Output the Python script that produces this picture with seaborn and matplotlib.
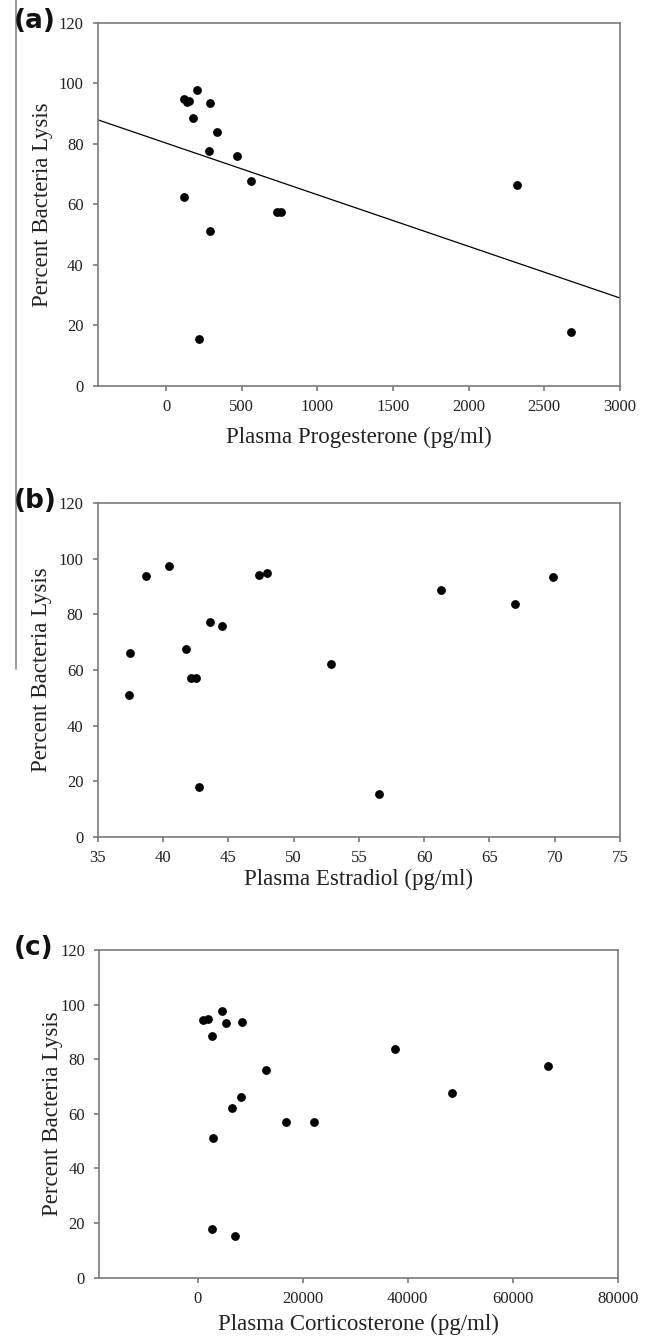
import matplotlib
matplotlib.use("Agg")
import matplotlib.pyplot as plt
import seaborn as sns
import pandas as pd
from matplotlib.lines import Line2D

# panel (a) progesterone
progesterone = [120, 150, 140, 206, 292, 179, 340, 287, 472, 560, 118, 730, 757, 292, 219, 2319, 2676]
lysis_a = [94.9, 94.2, 93.8, 97.6, 93.5, 88.6, 83.9, 77.5, 76.0, 67.7, 62.3, 57.3, 57.3, 51.2, 15.3, 66.3, 17.9]

# panel (b) estradiol
estradiol = [37.36, 37.5, 38.66, 40.45, 41.75, 42.13, 42.55, 42.77, 43.57, 44.49, 47.32, 47.96, 52.83, 56.53, 61.27, 66.97, 69.84]
lysis_b = [51.1, 66.2, 93.8, 97.5, 67.7, 57.2, 57.2, 17.9, 77.4, 76.0, 94.2, 94.9, 62.3, 15.3, 88.6, 83.9, 93.4]

# panel (c) corticosterone
corticosterone = [1020, 1960, 2670, 4710, 5340, 8480, 37530, 12950, 66810, 48360, 8240, 6520, 16800, 22140, 2900, 2670, 7140]
lysis_c = [94.2, 94.9, 88.6, 97.5, 93.4, 93.8, 83.9, 76.0, 77.4, 67.7, 66.3, 62.3, 57.2, 57.2, 51.2, 17.9, 15.3]

y_ticks = [0, 20, 40, 60, 80, 100, 120]

sns.set_theme(style="white")
plt.rcParams['font.family'] = ['Liberation Serif', 'DejaVu Serif']

grey = "#7a7a7a"
fig = plt.figure(figsize=(6.51, 13.37), dpi=100)

panels = [
    dict(x=progesterone, y=lysis_a, label="(a)", xlabel="Plasma Progesterone (pg/ml)",
         xlim=(-450, 3000), xticks=[0, 500, 1000, 1500, 2000, 2500, 3000],
         rect=[0.1505, 0.7115, 0.8018, 0.2715], ylab_x=-0.107, xlab_y=-0.141, fit=True),
    dict(x=estradiol, y=lysis_b, label="(b)", xlabel="Plasma Estradiol (pg/ml)",
         xlim=(35, 75), xticks=[35, 40, 45, 50, 55, 60, 65, 70, 75],
         rect=[0.1501, 0.3742, 0.8023, 0.2494], ylab_x=-0.107, xlab_y=-0.127, fit=False),
    dict(x=corticosterone, y=lysis_c, label="(c)", xlabel="Plasma Corticosterone (pg/ml)",
         xlim=(-18750, 80000), xticks=[0, 20000, 40000, 60000, 80000],
         rect=[0.1525, 0.04435, 0.7963, 0.2451], ylab_x=-0.091, xlab_y=-0.141, fit=False),
]

for p in panels:
    ax = fig.add_axes(p["rect"])
    df = pd.DataFrame({"x": p["x"], "y": p["y"]})
    ax.set_xlim(*p["xlim"])
    ax.set_ylim(0, 120)
    sns.scatterplot(data=df, x="x", y="y", ax=ax, color="black", s=40,
                    edgecolor="black", linewidth=0, zorder=3)
    if p["fit"]:
        sns.regplot(data=df, x="x", y="y", ax=ax, scatter=False, ci=None,
                    truncate=False, color="black", line_kws={"linewidth": 0.9})
    ax.set_xlim(*p["xlim"])
    ax.set_ylim(0, 120)
    ax.set_xticks(p["xticks"])
    ax.set_xticklabels([str(t) for t in p["xticks"]])
    ax.set_yticks(y_ticks)
    for s in ax.spines.values():
        s.set_color(grey)
        s.set_linewidth(1.2)
    ax.tick_params(axis="both", which="major", direction="out", length=3.8,
                   width=1.2, color=grey, labelsize=12, labelcolor="#222222",
                   bottom=True, left=True, top=False, right=False)
    ax.tick_params(axis="x", pad=6)
    ax.tick_params(axis="y", pad=6.5)
    ax.set_xlabel(p["xlabel"], fontsize=16.5, color="#222222", va="center")
    ax.set_ylabel("Percent Bacteria Lysis", fontsize=16.5, color="#222222", va="center")
    ax.xaxis.set_label_coords(0.5, p["xlab_y"])
    ax.yaxis.set_label_coords(p["ylab_x"], 0.5)
    ax.grid(False)
    # panel letter
    top_px = (1 - (p["rect"][1] + p["rect"][3])) * 1337
    fig.text(14 / 651, 1 - (top_px - 2) / 1337, p["label"], fontsize=19, fontweight="bold",
             family="DejaVu Sans", ha="left", va="center", color="#111111")

# stray frame line at the left edge of the original page
fig.add_artist(Line2D([16 / 651, 16 / 651], [1, 1 - 669 / 1337], color="#8a8a8a",
                      linewidth=1.2, transform=fig.transFigure))

fig.savefig("out.png", dpi=100)
